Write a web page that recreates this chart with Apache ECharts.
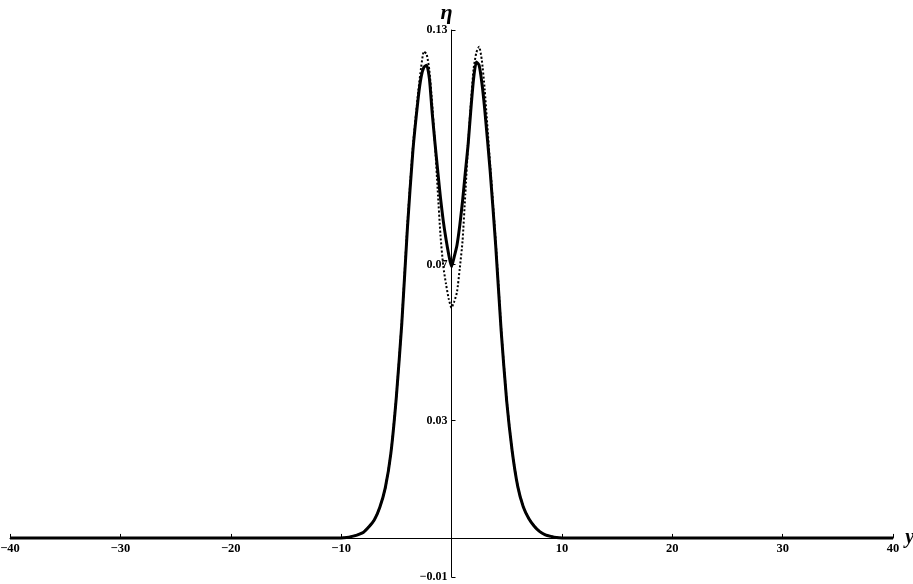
<!DOCTYPE html>
<html>
<head>
<meta charset="utf-8">
<script src="https://cdn.jsdelivr.net/npm/echarts@6/dist/echarts.min.js"></script>
<style>
html,body{margin:0;padding:0;background:#fff;}
#chart{width:913px;height:584px;}
</style>
</head>
<body>
<div id="chart"></div>
<script>
// ---- data ----
const xValues = [-40, -30, -20, -12, -10, -9.5, -9, -8.5, -8, -7.5, -7, -6.5, -6, -5.5, -5, -4.5, -4, -3.5, -3, -2.75, -2.5, -2.25, -2, -1.75, -1.5, -1.25, -1, -0.75, -0.5, -0.25, 0,
  0.25, 0.5, 0.75, 1, 1.25, 1.5, 1.75, 2, 2.25, 2.5, 2.75, 3, 3.5, 4, 4.5, 5, 5.5, 6, 6.5, 7, 7.5, 8, 8.5, 9, 9.5, 10, 12, 20, 30, 40];
const solidValues = [0, 0, 0, 0, 0, 0.0001, 0.0004, 0.0008, 0.0014, 0.0028, 0.0046, 0.0078, 0.0128, 0.0215, 0.0360, 0.0550, 0.0790, 0.0990, 0.1130, 0.1180, 0.1205, 0.1210, 0.1175, 0.1088, 0.1012, 0.0940, 0.0871, 0.0812, 0.0765, 0.0725, 0.0694,
  0.0720, 0.0750, 0.0800, 0.0862, 0.0935, 0.1005, 0.1095, 0.1175, 0.1218, 0.1210, 0.1165, 0.1100, 0.0940, 0.0750, 0.0530, 0.0350, 0.0222, 0.0132, 0.0080, 0.0050, 0.0030, 0.0016, 0.0008, 0.0004, 0.0001, 0, 0, 0, 0, 0];
const dottedValues = [0, 0, 0, 0, 0, 0.0001, 0.0004, 0.0008, 0.0014, 0.0028, 0.0046, 0.0078, 0.0128, 0.0215, 0.0362, 0.0555, 0.0800, 0.1000, 0.1145, 0.1205, 0.1245, 0.1238, 0.1195, 0.1110, 0.1010, 0.0890, 0.0775, 0.0697, 0.0650, 0.0612, 0.0589,
  0.0605, 0.0630, 0.0690, 0.0760, 0.0880, 0.1005, 0.1110, 0.1200, 0.1242, 0.1257, 0.1222, 0.1150, 0.0955, 0.0760, 0.0535, 0.0353, 0.0222, 0.0132, 0.0080, 0.0050, 0.0030, 0.0016, 0.0008, 0.0004, 0.0001, 0, 0, 0, 0, 0];
const xTickValues = [-40, -30, -20, -10, 10, 20, 30, 40];
const yTickValues = [-0.01, 0.03, 0.07, 0.13];
const xAxisTitle = 'y';
const yAxisTitle = 'η';

function fmt(v) {
  const s = String(Math.abs(v));
  return v < 0 ? '\u2212' + s : s;
}

const W = 913, H = 584;
const gridBox = {left: 10, right: 20, top: 30, bottom: 7};
const chart = echarts.init(document.getElementById('chart'), null, {renderer: 'canvas', width: W, height: H});
const labelFont = {fontFamily: '"Liberation Serif", "DejaVu Serif", serif', fontWeight: 'bold', color: '#000'};

chart.setOption({
  animation: false,
  backgroundColor: '#fff',
  grid: Object.assign({containLabel: false, outerBoundsMode: 'none'}, gridBox),
  xAxis: {
    type: 'value', min: -40, max: 40, interval: 10, position: 'bottom', offset: 0,
    name: xAxisTitle, nameLocation: 'end', nameGap: 3,
    nameTextStyle: {fontFamily: '"Liberation Serif", serif', fontStyle: 'italic', fontWeight: 'bold', fontSize: 20, color: '#000', verticalAlign: 'middle', padding: [0, 0, 4, 0]},
    axisLine: {onZero: false, lineStyle: {color: '#000', width: 1}},
    axisTick: {show: true, inside: true, length: 4, customValues: xTickValues, lineStyle: {color: '#000'}},
    axisLabel: Object.assign({fontSize: 12.5, margin: 4, customValues: xTickValues, formatter: fmt}, labelFont),
    splitLine: {show: false}
  },
  yAxis: {
    type: 'value', min: -0.01, max: 0.13, position: 'left', offset: 0,
    name: yAxisTitle, nameLocation: 'end', nameGap: 6,
    nameTextStyle: {fontFamily: '"Liberation Serif", serif', fontStyle: 'italic', fontWeight: 'bold', fontSize: 22, color: '#000', padding: [0, 10, 0, 0]},
    axisLine: {onZero: false, lineStyle: {color: '#000', width: 1}},
    axisTick: {show: true, inside: true, length: 4, customValues: yTickValues, lineStyle: {color: '#000'}},
    axisLabel: Object.assign({fontSize: 12, margin: 4, customValues: yTickValues, formatter: fmt, padding: [3, 0, 0, 0]}, labelFont),
    splitLine: {show: false}
  },
  series: [
    {
      type: 'line', name: 'solid', showSymbol: false, smooth: 0.2,
      data: xValues.map((x, i) => [x, solidValues[i]]),
      lineStyle: {color: '#000', width: 3},
      z: 2
    },
    {
      type: 'line', name: 'dotted', showSymbol: false, smooth: 0.2,
      data: xValues.map((x, i) => [x, dottedValues[i]]),
      lineStyle: {color: '#000', width: 2, type: [2, 2]},
      z: 3
    }
  ]
});

// place axes through the origin using the library's own scales
const zero = chart.convertToPixel({gridIndex: 0}, [0, 0]);
chart.setOption({
  xAxis: {offset: zero[1] - (H - gridBox.bottom)},
  yAxis: {offset: gridBox.left - zero[0]}
});
</script>
</body>
</html>
